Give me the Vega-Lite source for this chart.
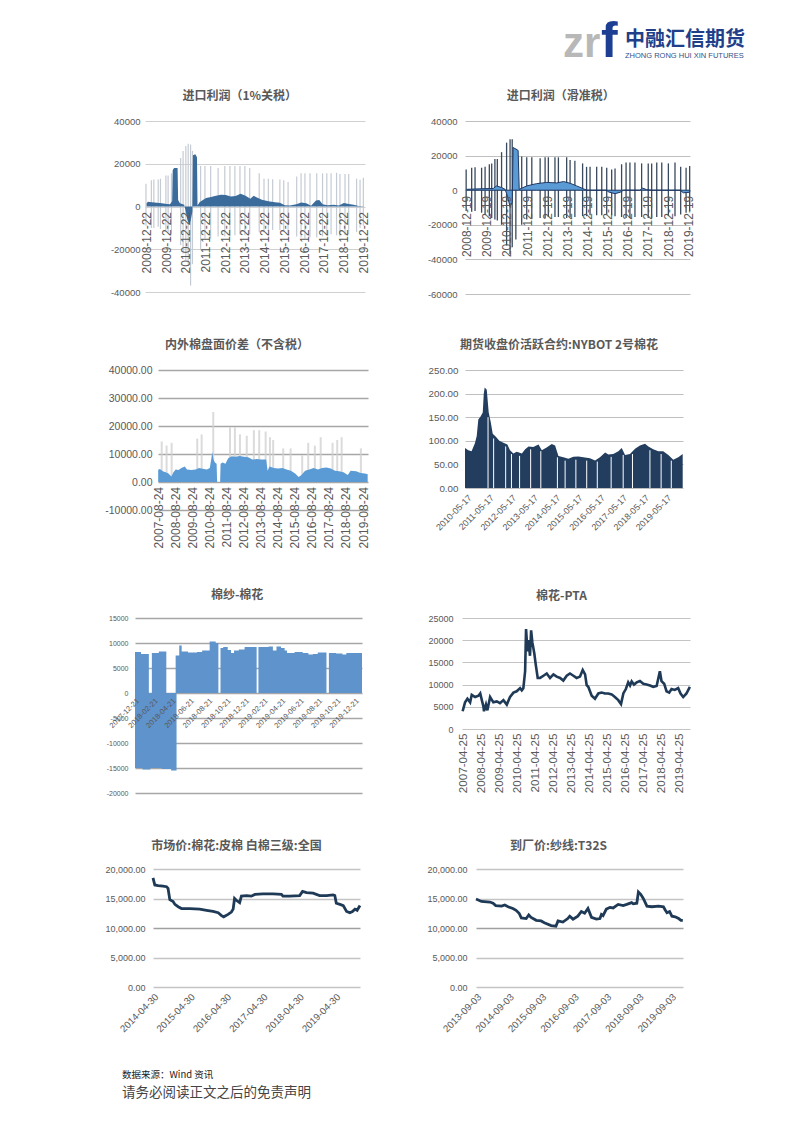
{
"$schema": "https://vega.github.io/schema/vega-lite/v6.json",
"background": "white",
"padding": 0,
"columns": 5,
"bounds": "flush",
"align": "each",
"spacing": {"row": 0, "column": 0},
"config": {
  "view": {"stroke": null},
  "title": {"font": "Noto Sans CJK SC", "fontSize": 12, "fontWeight": "bold", "color": "#595959", "anchor": "middle", "frame": "bounds", "baseline": "alphabetic"},
  "axis": {"labelFont": "Liberation Sans", "labelColor": "#595959", "domain": false, "ticks": false, "labelOverlap": false, "labelFlush": false},
  "axisX": {"grid": false},
  "axisY": {"grid": true}
},
"datasets": {
  "d1a": [
    {"d":"2008-12-22","v":1500},{"d":"2009-01-15","v":2200},{"d":"2009-04-01","v":2000},{"d":"2009-07-01","v":1700},{"d":"2009-10-01","v":1500},{"d":"2010-01-01","v":1200},{"d":"2010-03-01","v":1000},{"d":"2010-04-10","v":2500},{"d":"2010-04-20","v":17000},{"d":"2010-05-15","v":18000},{"d":"2010-07-20","v":18000},{"d":"2010-07-30","v":3000},{"d":"2010-09-01","v":1500},{"d":"2010-11-20","v":800},{"d":"2010-12-15","v":-2000},{"d":"2011-01-15","v":-6000},{"d":"2011-02-20","v":-8500},{"d":"2011-03-20","v":-6500},{"d":"2011-04-20","v":-2500},{"d":"2011-05-01","v":24000},{"d":"2011-06-15","v":24500},{"d":"2011-07-15","v":23000},{"d":"2011-07-25","v":500},{"d":"2011-09-01","v":2000},{"d":"2011-11-01","v":3000},{"d":"2012-01-01","v":4000},{"d":"2012-04-01","v":4500},{"d":"2012-07-01","v":5000},{"d":"2012-10-01","v":5500},{"d":"2013-01-01","v":5400},{"d":"2013-04-01","v":4700},{"d":"2013-07-01","v":4900},{"d":"2013-10-01","v":6000},{"d":"2014-01-01","v":5000},{"d":"2014-04-01","v":3600},{"d":"2014-06-01","v":5000},{"d":"2014-08-01","v":4200},{"d":"2014-11-01","v":3200},{"d":"2015-03-01","v":2500},{"d":"2015-07-01","v":2000},{"d":"2015-10-01","v":1800},{"d":"2016-01-01","v":600},{"d":"2016-04-01","v":500},{"d":"2016-08-01","v":1000},{"d":"2016-11-01","v":1900},{"d":"2017-02-01","v":1500},{"d":"2017-05-01","v":400},{"d":"2017-08-01","v":2800},{"d":"2017-10-01","v":3000},{"d":"2017-12-01","v":1000},{"d":"2018-03-01","v":600},{"d":"2018-07-01","v":800},{"d":"2018-10-01","v":500},{"d":"2019-01-01","v":1600},{"d":"2019-04-01","v":1200},{"d":"2019-07-01","v":800},{"d":"2019-10-01","v":200},{"d":"2019-12-31","v":100}
  ],
  "d1r": [
    {"d":"2008-12-10","lo":-9000,"hi":10700},{"d":"2009-03-20","lo":-10000,"hi":12300},{"d":"2009-05-05","lo":-10000,"hi":12600},{"d":"2009-07-25","lo":-9500,"hi":12600},{"d":"2009-09-05","lo":-10500,"hi":13000},{"d":"2009-12-15","lo":-11000,"hi":14500},{"d":"2010-01-25","lo":-12000,"hi":14500},{"d":"2010-03-28","lo":-13000,"hi":15500},{"d":"2010-09-15","lo":-18000,"hi":22700},{"d":"2010-10-30","lo":-22000,"hi":26000},{"d":"2010-12-20","lo":-25000,"hi":28300},{"d":"2011-02-02","lo":-28000,"hi":29400},{"d":"2011-03-18","lo":-37000,"hi":29000},{"d":"2011-04-22","lo":-27000,"hi":26000},{"d":"2011-09-20","lo":-20000,"hi":19000},{"d":"2011-12-10","lo":-15000,"hi":19000},{"d":"2012-03-25","lo":-15000,"hi":19000},{"d":"2012-08-10","lo":-14000,"hi":18000},{"d":"2012-12-12","lo":-14000,"hi":19000},{"d":"2013-03-18","lo":-14000,"hi":19000},{"d":"2013-06-18","lo":-13500,"hi":19000},{"d":"2013-09-20","lo":-13000,"hi":19000},{"d":"2013-12-20","lo":-13500,"hi":19000},{"d":"2014-03-20","lo":-13000,"hi":18000},{"d":"2014-09-12","lo":-12000,"hi":15500},{"d":"2014-12-10","lo":-12000,"hi":13000},{"d":"2015-03-01","lo":-11500,"hi":13000},{"d":"2015-05-20","lo":-11000,"hi":12800},{"d":"2015-10-01","lo":-11000,"hi":12600},{"d":"2015-12-12","lo":-11500,"hi":12300},{"d":"2016-03-01","lo":-12500,"hi":11500},{"d":"2016-08-08","lo":-14000,"hi":14000},{"d":"2016-10-28","lo":-14500,"hi":15500},{"d":"2017-01-08","lo":-15000,"hi":15500},{"d":"2017-04-12","lo":-14500,"hi":15500},{"d":"2017-08-15","lo":-14500,"hi":15500},{"d":"2017-12-01","lo":-14000,"hi":15500},{"d":"2018-02-18","lo":-13500,"hi":15500},{"d":"2018-05-08","lo":-13000,"hi":15500},{"d":"2018-08-18","lo":-13500,"hi":15800},{"d":"2018-10-20","lo":-14000,"hi":15200},{"d":"2019-01-22","lo":-13500,"hi":15200},{"d":"2019-04-01","lo":-13000,"hi":15200},{"d":"2019-08-25","lo":-12000,"hi":13000},{"d":"2019-10-28","lo":-10000,"hi":12500},{"d":"2019-12-28","lo":-9000,"hi":13500}
  ],
  "d2a": [
    {"d":"2008-12-19","v":500},{"d":"2009-08-15","v":800},{"d":"2010-04-15","v":1000},{"d":"2010-06-15","v":2500},{"d":"2010-09-15","v":1500},{"d":"2010-11-15","v":500},{"d":"2010-12-15","v":-2000},{"d":"2011-02-15","v":-9500},{"d":"2011-03-25","v":-7000},{"d":"2011-04-10","v":24700},{"d":"2011-07-10","v":23000},{"d":"2011-07-30","v":500},{"d":"2011-12-15","v":2500},{"d":"2012-06-10","v":3800},{"d":"2012-12-10","v":4500},{"d":"2013-06-10","v":4200},{"d":"2013-10-10","v":5000},{"d":"2014-02-06","v":4000},{"d":"2014-06-05","v":2500},{"d":"2014-10-05","v":800},{"d":"2014-12-05","v":0},{"d":"2015-12-01","v":0},{"d":"2016-01-01","v":-1000},{"d":"2016-05-01","v":-2000},{"d":"2016-08-01","v":-1200},{"d":"2016-10-01","v":0},{"d":"2017-07-25","v":0},{"d":"2017-09-13","v":1200},{"d":"2017-11-25","v":300},{"d":"2018-03-01","v":0},{"d":"2019-07-25","v":0},{"d":"2019-09-20","v":-1500},{"d":"2020-01-15","v":-1200}
  ],
  "d2r": [
    {"d":"2008-12-10","lo":-12000,"hi":12000},{"d":"2009-03-20","lo":-12500,"hi":13000},{"d":"2009-05-20","lo":-12000,"hi":13200},{"d":"2009-09-16","lo":-13000,"hi":13000},{"d":"2009-11-18","lo":-14000,"hi":13500},{"d":"2010-02-03","lo":-15000,"hi":15000},{"d":"2010-03-18","lo":-16000,"hi":15500},{"d":"2010-05-15","lo":-17000,"hi":18000},{"d":"2010-06-28","lo":-17500,"hi":18000},{"d":"2010-09-13","lo":-20000,"hi":22000},{"d":"2010-12-13","lo":-32000,"hi":27500},{"d":"2011-02-14","lo":-37000,"hi":29500},{"d":"2011-03-25","lo":-33000,"hi":29500},{"d":"2011-05-30","lo":-28500,"hi":24000},{"d":"2011-09-13","lo":-20000,"hi":19500},{"d":"2011-12-13","lo":-17000,"hi":19000},{"d":"2012-03-14","lo":-16500,"hi":19000},{"d":"2012-08-12","lo":-16000,"hi":18500},{"d":"2012-11-10","lo":-16000,"hi":19000},{"d":"2013-01-08","lo":-15500,"hi":19000},{"d":"2013-05-08","lo":-15500,"hi":19000},{"d":"2013-07-09","lo":-15500,"hi":19000},{"d":"2013-12-06","lo":-16000,"hi":19000},{"d":"2014-02-06","lo":-15500,"hi":17500},{"d":"2014-05-04","lo":-15500,"hi":17000},{"d":"2014-09-21","lo":-15000,"hi":15500},{"d":"2014-12-02","lo":-15000,"hi":13500},{"d":"2015-02-03","lo":-14500,"hi":13500},{"d":"2015-06-03","lo":-14500,"hi":13500},{"d":"2015-09-03","lo":-14500,"hi":13500},{"d":"2015-12-02","lo":-14000,"hi":13000},{"d":"2016-03-01","lo":-14500,"hi":12000},{"d":"2016-05-01","lo":-15000,"hi":12500},{"d":"2016-08-28","lo":-15500,"hi":15000},{"d":"2016-11-17","lo":-16000,"hi":16000},{"d":"2017-01-26","lo":-16000,"hi":16000},{"d":"2017-04-27","lo":-15500,"hi":16000},{"d":"2017-08-26","lo":-15500,"hi":15500},{"d":"2017-12-24","lo":-16000,"hi":15500},{"d":"2018-02-24","lo":-16000,"hi":15500},{"d":"2018-05-27","lo":-15500,"hi":16000},{"d":"2018-08-26","lo":-15500,"hi":16000},{"d":"2018-12-24","lo":-15000,"hi":15500},{"d":"2019-04-23","lo":-15000,"hi":16000},{"d":"2019-08-04","lo":-14000,"hi":13500},{"d":"2019-11-10","lo":-13000,"hi":13000},{"d":"2020-01-14","lo":-12000,"hi":14000}
  ],
  "d3a": [
    {"d":"2007-08-24","v":4400},{"d":"2007-10-01","v":4600},{"d":"2007-12-01","v":3800},{"d":"2008-02-01","v":3500},{"d":"2008-04-01","v":3000},{"d":"2008-06-01","v":2000},{"d":"2008-07-15","v":3500},{"d":"2008-09-01","v":4500},{"d":"2008-11-01","v":4300},{"d":"2009-01-01","v":5000},{"d":"2009-03-15","v":5500},{"d":"2009-05-01","v":4500},{"d":"2009-08-01","v":4300},{"d":"2009-11-01","v":4500},{"d":"2010-01-15","v":5000},{"d":"2010-04-01","v":4700},{"d":"2010-07-01","v":4500},{"d":"2010-09-01","v":5000},{"d":"2010-10-01","v":8000},{"d":"2010-10-25","v":10700},{"d":"2010-11-20","v":8000},{"d":"2010-12-20","v":7000},{"d":"2011-01-25","v":6500},{"d":"2011-02-05","v":0},{"d":"2011-04-10","v":0},{"d":"2011-04-20","v":6500},{"d":"2011-06-01","v":7000},{"d":"2011-08-01","v":6500},{"d":"2011-10-01","v":8500},{"d":"2011-12-15","v":9200},{"d":"2012-03-01","v":9000},{"d":"2012-06-01","v":9300},{"d":"2012-09-01","v":9000},{"d":"2012-12-01","v":8800},{"d":"2013-03-01","v":8000},{"d":"2013-06-01","v":8200},{"d":"2013-09-01","v":8000},{"d":"2013-12-20","v":8000},{"d":"2014-01-20","v":4000},{"d":"2014-03-01","v":5500},{"d":"2014-06-01","v":5000},{"d":"2014-09-01","v":4800},{"d":"2014-12-01","v":5000},{"d":"2015-03-01","v":4500},{"d":"2015-06-01","v":4000},{"d":"2015-09-01","v":3000},{"d":"2015-11-15","v":1800},{"d":"2016-01-15","v":2500},{"d":"2016-04-01","v":4000},{"d":"2016-07-01","v":4500},{"d":"2016-10-01","v":5000},{"d":"2017-01-01","v":4500},{"d":"2017-04-01","v":5000},{"d":"2017-07-01","v":5200},{"d":"2017-10-01","v":4800},{"d":"2018-01-01","v":4000},{"d":"2018-04-01","v":3800},{"d":"2018-07-01","v":3500},{"d":"2018-10-01","v":2500},{"d":"2018-12-01","v":4000},{"d":"2019-04-01","v":3800},{"d":"2019-07-01","v":3200},{"d":"2019-10-01","v":3000},{"d":"2019-12-01","v":2800}
  ],
  "d3r": [
    {"d":"2007-11-07","v":14500},{"d":"2008-02-20","v":13000},{"d":"2008-06-07","v":14000},{"d":"2009-12-06","v":15500},{"d":"2010-03-11","v":17000},{"d":"2010-11-14","v":25000},{"d":"2011-11-07","v":19500},{"d":"2012-02-20","v":19500},{"d":"2012-06-07","v":17000},{"d":"2012-10-31","v":16500},{"d":"2013-04-01","v":18500},{"d":"2013-07-24","v":18500},{"d":"2013-12-09","v":18000},{"d":"2014-03-11","v":16000},{"d":"2014-05-19","v":15000},{"d":"2014-12-20","v":12000},{"d":"2015-05-27","v":12000},{"d":"2016-01-30","v":9500},{"d":"2016-06-07","v":14000},{"d":"2016-10-27","v":13000},{"d":"2017-03-01","v":16000},{"d":"2017-11-10","v":14000},{"d":"2018-02-17","v":15000},{"d":"2018-05-23","v":16000},{"d":"2019-07-09","v":12000}
  ],
  "d4a": [
    {"d":"2010-04-17","v":85},{"d":"2010-06-10","v":80},{"d":"2010-08-03","v":78},{"d":"2010-09-27","v":95},{"d":"2010-10-27","v":110},{"d":"2010-11-22","v":145},{"d":"2011-01-01","v":152},{"d":"2011-02-03","v":160},{"d":"2011-02-20","v":200},{"d":"2011-03-07","v":213},{"d":"2011-04-10","v":208},{"d":"2011-05-12","v":160},{"d":"2011-06-14","v":140},{"d":"2011-07-17","v":115},{"d":"2011-09-10","v":108},{"d":"2011-11-03","v":100},{"d":"2012-01-08","v":96},{"d":"2012-03-14","v":92},{"d":"2012-04-27","v":80},{"d":"2012-06-21","v":73},{"d":"2012-08-15","v":77},{"d":"2012-11-07","v":73},{"d":"2013-01-01","v":82},{"d":"2013-02-25","v":88},{"d":"2013-05-15","v":87},{"d":"2013-08-08","v":92},{"d":"2013-10-01","v":80},{"d":"2013-12-20","v":86},{"d":"2014-03-14","v":93},{"d":"2014-05-08","v":90},{"d":"2014-07-02","v":68},{"d":"2014-09-21","v":65},{"d":"2014-12-13","v":62},{"d":"2015-03-04","v":66},{"d":"2015-05-27","v":67},{"d":"2015-08-15","v":65},{"d":"2015-12-02","v":63},{"d":"2016-02-25","v":58},{"d":"2016-05-15","v":65},{"d":"2016-08-08","v":75},{"d":"2016-10-01","v":71},{"d":"2016-12-20","v":72},{"d":"2017-03-14","v":78},{"d":"2017-05-08","v":85},{"d":"2017-07-02","v":70},{"d":"2017-09-21","v":72},{"d":"2017-12-13","v":83},{"d":"2018-03-04","v":90},{"d":"2018-05-27","v":94},{"d":"2018-07-20","v":88},{"d":"2018-10-08","v":82},{"d":"2019-01-01","v":78},{"d":"2019-03-22","v":78},{"d":"2019-06-14","v":70},{"d":"2019-09-03","v":60},{"d":"2019-11-25","v":65},{"d":"2020-02-05","v":72}
  ],
  "d4g": [
    {"d":"2011-05-01","v":150},{"d":"2011-08-01","v":105},{"d":"2012-02-15","v":88},{"d":"2012-05-20","v":72},{"d":"2012-10-01","v":68},{"d":"2013-04-01","v":82},{"d":"2013-09-15","v":78},{"d":"2014-06-15","v":65},{"d":"2014-10-20","v":58},{"d":"2015-04-15","v":60},{"d":"2015-10-10","v":58},{"d":"2016-04-01","v":56},{"d":"2016-11-15","v":66},{"d":"2017-06-01","v":70},{"d":"2017-11-01","v":72},{"d":"2018-08-15","v":80},{"d":"2019-02-15","v":72},{"d":"2019-08-01","v":58}
  ],
  "d5p": [
    {"d":"2017-12-21","v":8200},{"d":"2018-01-10","v":7800},{"d":"2018-02-05","v":0},{"d":"2018-02-15","v":8000},{"d":"2018-03-10","v":8300},{"d":"2018-04-04","v":0},{"d":"2018-05-05","v":7500},{"d":"2018-05-17","v":9500},{"d":"2018-05-25","v":8300},{"d":"2018-06-15","v":8100},{"d":"2018-07-15","v":8200},{"d":"2018-08-01","v":8500},{"d":"2018-08-26","v":10300},{"d":"2018-09-15","v":10000},{"d":"2018-09-24","v":0},{"d":"2018-10-01","v":9000},{"d":"2018-10-10","v":9200},{"d":"2018-10-25","v":8600},{"d":"2018-11-05","v":8000},{"d":"2018-11-15","v":8500},{"d":"2018-12-01","v":8700},{"d":"2018-12-20","v":9200},{"d":"2019-01-29","v":0},{"d":"2019-02-04","v":9200},{"d":"2019-03-10","v":9300},{"d":"2019-03-24","v":8500},{"d":"2019-04-05","v":9300},{"d":"2019-04-20","v":9000},{"d":"2019-05-02","v":8500},{"d":"2019-05-10","v":8000},{"d":"2019-06-04","v":8200},{"d":"2019-07-01","v":8000},{"d":"2019-07-20","v":7700},{"d":"2019-08-04","v":7800},{"d":"2019-08-20","v":8100},{"d":"2019-09-18","v":0},{"d":"2019-09-26","v":8000},{"d":"2019-10-20","v":7900},{"d":"2019-11-10","v":7700},{"d":"2019-11-23","v":8000},{"d":"2020-01-14","v":7900}
  ],
  "d5n": [
    {"d":"2017-12-21","v":-15000},{"d":"2018-01-15","v":-15300},{"d":"2018-02-10","v":-15000},{"d":"2018-03-20","v":-15200},{"d":"2018-04-20","v":-15500},{"d":"2018-05-08","v":0}
  ],
  "d6": [
    {"d":"2007-04-25","v":4000},{"d":"2007-06-13","v":6000},{"d":"2007-07-31","v":6800},{"d":"2007-09-24","v":6000},{"d":"2007-10-27","v":7700},{"d":"2008-01-04","v":7200},{"d":"2008-03-11","v":7500},{"d":"2008-04-16","v":8000},{"d":"2008-05-19","v":6500},{"d":"2008-06-21","v":5000},{"d":"2008-07-02","v":4000},{"d":"2008-08-11","v":5500},{"d":"2008-09-09","v":4200},{"d":"2008-11-03","v":7200},{"d":"2009-01-08","v":6000},{"d":"2009-03-18","v":6200},{"d":"2009-05-23","v":5800},{"d":"2009-07-31","v":6500},{"d":"2009-10-08","v":5500},{"d":"2009-12-13","v":7200},{"d":"2010-02-20","v":8200},{"d":"2010-04-27","v":8500},{"d":"2010-07-05","v":9200},{"d":"2010-08-08","v":8700},{"d":"2010-09-09","v":9200},{"d":"2010-10-15","v":13000},{"d":"2010-11-03","v":22500},{"d":"2010-12-02","v":17500},{"d":"2010-12-20","v":20000},{"d":"2011-01-22","v":16500},{"d":"2011-02-14","v":22200},{"d":"2011-03-11","v":19500},{"d":"2011-04-20","v":17000},{"d":"2011-05-19","v":14500},{"d":"2011-06-28","v":11500},{"d":"2011-08-15","v":11500},{"d":"2011-10-23","v":12000},{"d":"2011-12-28","v":12500},{"d":"2012-03-04","v":11500},{"d":"2012-05-12","v":12300},{"d":"2012-07-17","v":11800},{"d":"2012-09-24","v":11500},{"d":"2012-11-29","v":10900},{"d":"2013-02-06","v":12000},{"d":"2013-04-13","v":12500},{"d":"2013-06-21","v":12000},{"d":"2013-08-26","v":11500},{"d":"2013-11-03","v":11800},{"d":"2013-12-28","v":13300},{"d":"2014-02-14","v":12300},{"d":"2014-03-18","v":9900},{"d":"2014-04-20","v":9500},{"d":"2014-06-28","v":7500},{"d":"2014-09-03","v":6800},{"d":"2014-11-10","v":8000},{"d":"2015-01-15","v":8200},{"d":"2015-03-25","v":8000},{"d":"2015-05-30","v":8000},{"d":"2015-08-08","v":7800},{"d":"2015-10-12","v":7200},{"d":"2015-12-20","v":6500},{"d":"2016-02-14","v":5600},{"d":"2016-04-01","v":8000},{"d":"2016-05-22","v":9000},{"d":"2016-07-09","v":10500},{"d":"2016-08-15","v":9800},{"d":"2016-09-17","v":10700},{"d":"2016-11-03","v":10000},{"d":"2016-12-28","v":10500},{"d":"2017-03-04","v":10800},{"d":"2017-05-12","v":10200},{"d":"2017-07-17","v":10000},{"d":"2017-09-24","v":9800},{"d":"2017-11-29","v":9500},{"d":"2018-02-06","v":9700},{"d":"2018-04-13","v":13000},{"d":"2018-05-16","v":10800},{"d":"2018-07-09","v":10200},{"d":"2018-08-26","v":8500},{"d":"2018-10-20","v":8200},{"d":"2018-12-06","v":9000},{"d":"2019-02-10","v":8800},{"d":"2019-04-20","v":9200},{"d":"2019-06-07","v":8000},{"d":"2019-07-31","v":7200},{"d":"2019-10-05","v":8000},{"d":"2019-12-13","v":9500}
  ],
  "d7": [
    {"d":"2014-04-30","v":18500},{"d":"2014-05-18","v":17300},{"d":"2014-06-21","v":17200},{"d":"2014-08-08","v":17100},{"d":"2014-09-13","v":17000},{"d":"2014-09-28","v":16700},{"d":"2014-10-16","v":14800},{"d":"2014-11-18","v":14500},{"d":"2014-12-06","v":14000},{"d":"2015-01-08","v":13600},{"d":"2015-02-10","v":13300},{"d":"2015-05-05","v":13300},{"d":"2015-08-12","v":13200},{"d":"2015-10-20","v":13000},{"d":"2015-12-24","v":12800},{"d":"2016-02-14","v":12600},{"d":"2016-03-18","v":12100},{"d":"2016-04-09","v":11900},{"d":"2016-05-23","v":12300},{"d":"2016-06-25","v":12700},{"d":"2016-07-13","v":13200},{"d":"2016-07-27","v":15000},{"d":"2016-08-14","v":14700},{"d":"2016-09-16","v":14300},{"d":"2016-10-04","v":15400},{"d":"2016-11-25","v":15500},{"d":"2017-01-11","v":15400},{"d":"2017-02-17","v":15700},{"d":"2017-05-08","v":15800},{"d":"2017-08-18","v":15800},{"d":"2017-11-10","v":15700},{"d":"2017-11-25","v":15400},{"d":"2018-01-30","v":15400},{"d":"2018-05-12","v":15500},{"d":"2018-06-10","v":16200},{"d":"2018-07-20","v":16000},{"d":"2018-09-24","v":15900},{"d":"2018-11-28","v":15500},{"d":"2019-02-06","v":15500},{"d":"2019-04-13","v":15600},{"d":"2019-04-30","v":15500},{"d":"2019-05-15","v":14200},{"d":"2019-06-21","v":14000},{"d":"2019-07-24","v":13800},{"d":"2019-08-26","v":12800},{"d":"2019-09-28","v":12600},{"d":"2019-10-24","v":12800},{"d":"2019-11-18","v":13200},{"d":"2019-12-10","v":13000},{"d":"2020-01-08","v":13800}
  ],
  "d8": [
    {"d":"2013-09-03","v":14900},{"d":"2013-11-03","v":14500},{"d":"2014-02-06","v":14400},{"d":"2014-03-14","v":14200},{"d":"2014-04-13","v":13800},{"d":"2014-06-18","v":13700},{"d":"2014-07-24","v":13900},{"d":"2014-08-30","v":13600},{"d":"2014-10-23","v":13300},{"d":"2014-11-28","v":13000},{"d":"2015-01-01","v":12500},{"d":"2015-01-26","v":11700},{"d":"2015-03-22","v":11600},{"d":"2015-04-20","v":12200},{"d":"2015-05-16","v":11800},{"d":"2015-07-13","v":11300},{"d":"2015-09-06","v":11200},{"d":"2015-10-12","v":10900},{"d":"2015-12-28","v":10400},{"d":"2016-02-20","v":10300},{"d":"2016-03-14","v":11200},{"d":"2016-05-08","v":11000},{"d":"2016-07-02","v":11600},{"d":"2016-07-24","v":12000},{"d":"2016-08-30","v":11500},{"d":"2016-10-23","v":12000},{"d":"2016-12-02","v":12800},{"d":"2017-01-08","v":12500},{"d":"2017-02-14","v":13300},{"d":"2017-03-26","v":11800},{"d":"2017-05-20","v":11500},{"d":"2017-06-29","v":11600},{"d":"2017-07-16","v":12300},{"d":"2017-08-03","v":12100},{"d":"2017-09-09","v":13200},{"d":"2017-10-20","v":13500},{"d":"2017-11-25","v":13400},{"d":"2018-01-20","v":14000},{"d":"2018-03-18","v":13800},{"d":"2018-04-27","v":14000},{"d":"2018-06-21","v":14300},{"d":"2018-07-09","v":14100},{"d":"2018-08-18","v":14200},{"d":"2018-09-05","v":16100},{"d":"2018-10-01","v":15700},{"d":"2018-10-30","v":15000},{"d":"2018-12-10","v":13700},{"d":"2019-02-03","v":13600},{"d":"2019-04-20","v":13700},{"d":"2019-06-14","v":13600},{"d":"2019-07-02","v":13100},{"d":"2019-07-24","v":12600},{"d":"2019-08-22","v":12800},{"d":"2019-09-17","v":12000},{"d":"2019-10-24","v":11900},{"d":"2019-12-02","v":11600},{"d":"2019-12-28","v":11300},{"d":"2020-01-18","v":11300}
  ]
},
"concat": [
  {"width": 135, "height": 121, "data": {"values": []}, "mark": "point"},
  {"width": 1, "height": 57, "data": {"values": []}, "mark": "point",
   "title": {"text": "zr", "orient": "bottom", "anchor": "start", "frame": "group", "offset": 0, "dx": 428, "baseline": "alphabetic", "font": "Liberation Sans", "fontSize": 42, "fontWeight": "bold", "color": "#b8b8b8"}},
  {"width": 1, "height": 57, "data": {"values": []}, "mark": "point",
   "title": {"text": "f", "orient": "bottom", "anchor": "start", "frame": "group", "offset": 0, "dx": 233, "baseline": "alphabetic", "font": "Liberation Sans", "fontSize": 50, "fontWeight": "bold", "color": "#1d3f93"}},
  {"width": 1, "height": 46, "data": {"values": []}, "mark": "point",
   "title": {"text": "中融汇信期货", "orient": "bottom", "anchor": "start", "frame": "group", "offset": 0, "dx": 163, "baseline": "alphabetic", "font": "Noto Sans CJK SC", "fontSize": 20, "fontWeight": "bold", "color": "#1f3f8a"}},
  {"width": 1, "height": 58, "data": {"values": []}, "mark": "point",
   "title": {"text": "ZHONG RONG HUI XIN FUTURES", "orient": "bottom", "anchor": "start", "frame": "group", "offset": 0, "dx": -65, "baseline": "alphabetic", "font": "Liberation Sans", "fontSize": 7.5, "fontWeight": "normal", "color": "#33508a"}},

  {"width": 135, "height": 249, "data": {"values": []}, "mark": "point"},
  {"width": 233, "height": 171,
   "title": {"text": "进口利润（1%关税）", "offset": 13},
   "encoding": {
     "x": {"field": "d", "type": "temporal", "scale": {"type": "utc", "range": [10, 230], "domain": [{"year": 2008, "month": 11, "date": 22, "utc": true}, {"year": 2020, "month": 1, "date": 28, "utc": true}]},
           "axis": {"title": null, "format": "%Y-%m-%d", "labelAngle": -90, "labelFontSize": 12, "offset": -85.5, "labelPadding": 5, "zindex": 1, "labelOverlap": false,
                    "values": [{"year":2008,"month":12,"date":22,"utc":true},{"year":2009,"month":12,"date":22,"utc":true},{"year":2010,"month":12,"date":22,"utc":true},{"year":2011,"month":12,"date":22,"utc":true},{"year":2012,"month":12,"date":22,"utc":true},{"year":2013,"month":12,"date":22,"utc":true},{"year":2014,"month":12,"date":22,"utc":true},{"year":2015,"month":12,"date":22,"utc":true},{"year":2016,"month":12,"date":22,"utc":true},{"year":2017,"month":12,"date":22,"utc":true},{"year":2018,"month":12,"date":22,"utc":true},{"year":2019,"month":12,"date":22,"utc":true}]}}
   },
   "layer": [
     {"data": {"name": "d1r"}, "mark": {"type": "rule", "color": "#c5cbd3", "strokeWidth": 1.2},
      "encoding": {
        "y": {"field": "lo", "type": "quantitative", "scale": {"domain": [-40000, 40000]},
              "axis": {"title": null, "offset": -10, "labelOverlap": false, "values": [-40000, -20000, 0, 20000, 40000], "format": "d", "labelExpr": "replace(datum.label, '\u2212', '-')", "labelFontSize": 9.5, "labelPadding": 5, "gridColor": "#d0d0d0"}},
        "y2": {"field": "hi"}
      }},
     {"data": {"name": "d1a"}, "mark": {"type": "area", "color": "#3b6b9b"},
      "encoding": {
        "y": {"field": "v", "type": "quantitative", "scale": {"domain": [-40000, 40000]},
              "axis": {"title": null, "offset": -10, "labelOverlap": false, "values": [-40000, -20000, 0, 20000, 40000], "format": "d", "labelExpr": "replace(datum.label, '\u2212', '-')", "labelFontSize": 9.5, "labelPadding": 5, "gridColor": "#d0d0d0"}}
      }}
   ]},
  {"width": 94, "height": 1, "data": {"values": []}, "mark": "point"},
  {"width": 228, "height": 173,
   "title": {"text": "进口利润（滑准税）", "offset": 13},
   "encoding": {
     "x": {"field": "d", "type": "temporal", "scale": {"type": "utc", "range": [3, 228], "domain": [{"year": 2008, "month": 11, "date": 19, "utc": true}, {"year": 2020, "month": 1, "date": 20, "utc": true}]},
           "axis": {"title": null, "format": "%Y-%m-%d", "labelAngle": -90, "labelFontSize": 12, "offset": -103.8, "labelPadding": 5, "zindex": 1, "labelOverlap": false,
                    "values": [{"year":2008,"month":12,"date":19,"utc":true},{"year":2009,"month":12,"date":19,"utc":true},{"year":2010,"month":12,"date":19,"utc":true},{"year":2011,"month":12,"date":19,"utc":true},{"year":2012,"month":12,"date":19,"utc":true},{"year":2013,"month":12,"date":19,"utc":true},{"year":2014,"month":12,"date":19,"utc":true},{"year":2015,"month":12,"date":19,"utc":true},{"year":2016,"month":12,"date":19,"utc":true},{"year":2017,"month":12,"date":19,"utc":true},{"year":2018,"month":12,"date":19,"utc":true},{"year":2019,"month":12,"date":19,"utc":true}]}}
   },
   "layer": [
     {"data": {"name": "d2r"}, "mark": {"type": "rule", "color": "#3a4a5e", "strokeWidth": 1.3},
      "encoding": {
        "y": {"field": "lo", "type": "quantitative", "scale": {"domain": [-60000, 40000]},
              "axis": {"title": null, "offset": -3, "labelOverlap": false, "values": [-60000, -40000, -20000, 0, 20000, 40000], "format": "d", "labelExpr": "replace(datum.label, '\u2212', '-')", "labelFontSize": 9.5, "labelPadding": 8, "gridColor": "#bfbfbf"}},
        "y2": {"field": "hi"}
      }},
     {"data": {"name": "d2a"}, "mark": {"type": "area", "color": "#5b9bd5", "stroke": "#1f3864", "strokeWidth": 1},
      "encoding": {
        "y": {"field": "v", "type": "quantitative", "scale": {"domain": [-60000, 40000]},
              "axis": {"title": null, "offset": -3, "labelOverlap": false, "values": [-60000, -40000, -20000, 0, 20000, 40000], "format": "d", "labelExpr": "replace(datum.label, '\u2212', '-')", "labelFontSize": 9.5, "labelPadding": 8, "gridColor": "#bfbfbf"}}
      }}
   ]},
  {"width": 1, "height": 1, "data": {"values": []}, "mark": "point"},

  {"width": 135, "height": 248, "data": {"values": []}, "mark": "point"},
  {"width": 233, "height": 140,
   "title": {"text": "内外棉盘面价差（不含税）", "offset": 13},
   "encoding": {
     "x": {"field": "d", "type": "temporal", "scale": {"type": "utc", "range": [23, 233], "domain": [{"year": 2007, "month": 8, "date": 20, "utc": true}, {"year": 2019, "month": 12, "date": 8, "utc": true}]},
           "axis": {"title": null, "format": "%Y-%m-%d", "labelAngle": -90, "labelFontSize": 12, "offset": -28, "labelPadding": 4.5, "zindex": 1, "labelOverlap": false,
                    "values": [{"year":2007,"month":8,"date":24,"utc":true},{"year":2008,"month":8,"date":24,"utc":true},{"year":2009,"month":8,"date":24,"utc":true},{"year":2010,"month":8,"date":24,"utc":true},{"year":2011,"month":8,"date":24,"utc":true},{"year":2012,"month":8,"date":24,"utc":true},{"year":2013,"month":8,"date":24,"utc":true},{"year":2014,"month":8,"date":24,"utc":true},{"year":2015,"month":8,"date":24,"utc":true},{"year":2016,"month":8,"date":24,"utc":true},{"year":2017,"month":8,"date":24,"utc":true},{"year":2018,"month":8,"date":24,"utc":true},{"year":2019,"month":8,"date":24,"utc":true}]}}
   },
   "layer": [
     {"data": {"name": "d3r"}, "mark": {"type": "rule", "color": "#cfcfcf", "strokeWidth": 2, "opacity": 0.75},
      "encoding": {
        "y": {"field": "v", "type": "quantitative", "scale": {"domain": [-10000, 40000]},
              "axis": {"title": null, "offset": -23, "labelOverlap": false, "values": [-10000, 0, 10000, 20000, 30000, 40000], "format": ".2f", "labelExpr": "replace(datum.label, '\u2212', '-')", "labelFontSize": 10.5, "labelPadding": 6, "gridColor": "#a6a6a6", "gridWidth": 1.5}},
        "y2": {"datum": 0}
      }},
     {"data": {"name": "d3a"}, "mark": {"type": "area", "color": "#5b9bd5"},
      "encoding": {
        "y": {"field": "v", "type": "quantitative", "scale": {"domain": [-10000, 40000]},
              "axis": {"title": null, "offset": -23, "labelOverlap": false, "values": [-10000, 0, 10000, 20000, 30000, 40000], "format": ".2f", "labelExpr": "replace(datum.label, '\u2212', '-')", "labelFontSize": 10.5, "labelPadding": 6, "gridColor": "#a6a6a6", "gridWidth": 1.5}}
      }}
   ]},
  {"width": 94, "height": 1, "data": {"values": []}, "mark": "point"},
  {"width": 228, "height": 118,
   "title": {"text": "期货收盘价活跃合约:NYBOT 2号棉花", "offset": 13},
   "encoding": {
     "x": {"field": "d", "type": "temporal", "scale": {"type": "utc", "range": [3, 221], "domain": [{"year": 2010, "month": 4, "date": 17, "utc": true}, {"year": 2020, "month": 2, "date": 10, "utc": true}]},
           "axis": {"title": null, "format": "%Y-%m-%d", "labelAngle": -45, "labelAlign": "right", "labelBaseline": "top", "labelFontSize": 9, "labelPadding": 5, "labelOverlap": false,
                    "values": [{"year":2010,"month":5,"date":17,"utc":true},{"year":2011,"month":5,"date":17,"utc":true},{"year":2012,"month":5,"date":17,"utc":true},{"year":2013,"month":5,"date":17,"utc":true},{"year":2014,"month":5,"date":17,"utc":true},{"year":2015,"month":5,"date":17,"utc":true},{"year":2016,"month":5,"date":17,"utc":true},{"year":2017,"month":5,"date":17,"utc":true},{"year":2018,"month":5,"date":17,"utc":true},{"year":2019,"month":5,"date":17,"utc":true}]}}
   },
   "layer": [
     {"data": {"name": "d4a"}, "mark": {"type": "area", "color": "#223d5e"},
      "encoding": {
        "y": {"field": "v", "type": "quantitative", "scale": {"domain": [0, 250]},
              "axis": {"title": null, "offset": -3, "labelOverlap": false, "values": [0, 50, 100, 150, 200, 250], "format": ".2f", "labelFontSize": 9.8, "labelPadding": 7, "gridColor": "#bfbfbf", "gridWidth": 1.2}}
      }},
     {"data": {"name": "d4g"}, "mark": {"type": "rule", "color": "white", "strokeWidth": 1},
      "encoding": {
        "y": {"field": "v", "type": "quantitative", "scale": {"domain": [0, 250]},
              "axis": {"title": null, "offset": -3, "labelOverlap": false, "values": [0, 50, 100, 150, 200, 250], "format": ".2f", "labelFontSize": 9.8, "labelPadding": 7, "gridColor": "#bfbfbf", "gridWidth": 1.2}},
        "y2": {"datum": 0}
      }}
   ]},
  {"width": 1, "height": 1, "data": {"values": []}, "mark": "point"},

  {"width": 135, "height": 251, "data": {"values": []}, "mark": "point"},
  {"width": 233, "height": 175,
   "title": {"text": "棉纱-棉花", "offset": 12},
   "encoding": {
     "x": {"field": "d", "type": "temporal", "scale": {"type": "utc", "range": [0, 227], "domain": [{"year": 2017, "month": 12, "date": 21, "utc": true}, {"year": 2020, "month": 1, "date": 14, "utc": true}]},
           "axis": {"title": null, "format": "%Y-%m-%d", "labelAngle": -45, "labelAlign": "right", "labelBaseline": "top", "labelFontSize": 7.5, "labelPadding": 3.5, "offset": -100, "zindex": 1, "labelOverlap": false,
                    "values": [{"year":2017,"month":12,"date":21,"utc":true},{"year":2018,"month":2,"date":21,"utc":true},{"year":2018,"month":4,"date":21,"utc":true},{"year":2018,"month":6,"date":21,"utc":true},{"year":2018,"month":8,"date":21,"utc":true},{"year":2018,"month":10,"date":21,"utc":true},{"year":2018,"month":12,"date":21,"utc":true},{"year":2019,"month":2,"date":21,"utc":true},{"year":2019,"month":4,"date":21,"utc":true},{"year":2019,"month":6,"date":21,"utc":true},{"year":2019,"month":8,"date":21,"utc":true},{"year":2019,"month":10,"date":21,"utc":true},{"year":2019,"month":12,"date":21,"utc":true}]}}
   },
   "layer": [
     {"data": {"name": "d5p"}, "mark": {"type": "area", "interpolate": "step-after", "color": "#5f93cc"},
      "encoding": {
        "y": {"field": "v", "type": "quantitative", "scale": {"domain": [-20000, 15000]},
              "axis": {"title": null, "labelOverlap": false, "values": [-20000, -15000, -10000, -5000, 0, 5000, 10000, 15000], "format": "d", "labelExpr": "replace(datum.label, '\u2212', '-')", "labelFontSize": 7, "labelPadding": 7, "gridColor": "#a6a6a6", "gridWidth": 1.5}}
      }},
     {"data": {"name": "d5n"}, "mark": {"type": "area", "interpolate": "step-after", "color": "#5f93cc"},
      "encoding": {
        "y": {"field": "v", "type": "quantitative", "scale": {"domain": [-20000, 15000]},
              "axis": {"title": null, "labelOverlap": false, "values": [-20000, -15000, -10000, -5000, 0, 5000, 10000, 15000], "format": "d", "labelExpr": "replace(datum.label, '\u2212', '-')", "labelFontSize": 7, "labelPadding": 7, "gridColor": "#a6a6a6", "gridWidth": 1.5}}
      }}
   ]},
  {"width": 94, "height": 1, "data": {"values": []}, "mark": "point"},
  {"width": 228, "height": 111,
   "title": {"text": "棉花-PTA", "offset": 11},
   "data": {"name": "d6"},
   "mark": {"type": "line", "color": "#1f3a56", "strokeWidth": 2.6},
   "encoding": {
     "x": {"field": "d", "type": "temporal", "scale": {"type": "utc", "range": [0, 228], "domain": [{"year": 2007, "month": 4, "date": 12, "utc": true}, {"year": 2019, "month": 12, "date": 16, "utc": true}]},
           "axis": {"title": null, "format": "%Y-%m-%d", "labelAngle": -90, "labelFontSize": 11.7, "labelPadding": 4, "labelOverlap": false,
                    "values": [{"year":2007,"month":4,"date":25,"utc":true},{"year":2008,"month":4,"date":25,"utc":true},{"year":2009,"month":4,"date":25,"utc":true},{"year":2010,"month":4,"date":25,"utc":true},{"year":2011,"month":4,"date":25,"utc":true},{"year":2012,"month":4,"date":25,"utc":true},{"year":2013,"month":4,"date":25,"utc":true},{"year":2014,"month":4,"date":25,"utc":true},{"year":2015,"month":4,"date":25,"utc":true},{"year":2016,"month":4,"date":25,"utc":true},{"year":2017,"month":4,"date":25,"utc":true},{"year":2018,"month":4,"date":25,"utc":true},{"year":2019,"month":4,"date":25,"utc":true}]}},
     "y": {"field": "v", "type": "quantitative", "scale": {"domain": [0, 25000]},
           "axis": {"title": null, "labelOverlap": false, "values": [0, 5000, 10000, 15000, 20000, 25000], "format": "d", "labelFontSize": 9, "labelPadding": 9, "gridColor": "#c4c4c4", "gridWidth": 1.2}}
   }},
  {"width": 1, "height": 1, "data": {"values": []}, "mark": "point"},

  {"width": 135, "height": 197, "data": {"values": []}, "mark": "point"},
  {"width": 233, "height": 118,
   "title": {"text": "市场价:棉花:皮棉 白棉三级:全国", "offset": 12},
   "data": {"name": "d7"},
   "mark": {"type": "line", "color": "#1f3a56", "strokeWidth": 2.8},
   "encoding": {
     "x": {"field": "d", "type": "temporal", "scale": {"type": "utc", "range": [18, 225], "domain": [{"year": 2014, "month": 4, "date": 30, "utc": true}, {"year": 2020, "month": 1, "date": 8, "utc": true}]},
           "axis": {"title": null, "format": "%Y-%m-%d", "labelAngle": -45, "labelAlign": "right", "labelBaseline": "top", "labelFontSize": 9.7, "labelPadding": 4.5, "labelOverlap": false,
                    "values": [{"year":2014,"month":4,"date":30,"utc":true},{"year":2015,"month":4,"date":30,"utc":true},{"year":2016,"month":4,"date":30,"utc":true},{"year":2017,"month":4,"date":30,"utc":true},{"year":2018,"month":4,"date":30,"utc":true},{"year":2019,"month":4,"date":30,"utc":true}]}},
     "y": {"field": "v", "type": "quantitative", "scale": {"domain": [0, 20000]},
           "axis": {"title": null, "offset": -18, "labelOverlap": false, "values": [0, 5000, 10000, 15000, 20000], "format": ",.2f", "labelFontSize": 9, "labelPadding": 8, "gridColor": {"condition": {"test": "datum.value === 10000", "value": "#a0a0a0"}, "value": "#c4c4c4"}, "gridWidth": 1.3}}
   }},
  {"width": 94, "height": 1, "data": {"values": []}, "mark": "point"},
  {"width": 228, "height": 118,
   "title": {"text": "到厂价:纱线:T32S", "offset": 12},
   "data": {"name": "d8"},
   "mark": {"type": "line", "color": "#1f3a56", "strokeWidth": 2.8},
   "encoding": {
     "x": {"field": "d", "type": "temporal", "scale": {"type": "utc", "range": [14, 221], "domain": [{"year": 2013, "month": 9, "date": 3, "utc": true}, {"year": 2020, "month": 1, "date": 20, "utc": true}]},
           "axis": {"title": null, "format": "%Y-%m-%d", "labelAngle": -45, "labelAlign": "right", "labelBaseline": "top", "labelFontSize": 9.7, "labelPadding": 4.5, "labelOverlap": false,
                    "values": [{"year":2013,"month":9,"date":3,"utc":true},{"year":2014,"month":9,"date":3,"utc":true},{"year":2015,"month":9,"date":3,"utc":true},{"year":2016,"month":9,"date":3,"utc":true},{"year":2017,"month":9,"date":3,"utc":true},{"year":2018,"month":9,"date":3,"utc":true},{"year":2019,"month":9,"date":3,"utc":true}]}},
     "y": {"field": "v", "type": "quantitative", "scale": {"domain": [0, 20000]},
           "axis": {"title": null, "offset": -14, "labelOverlap": false, "values": [0, 5000, 10000, 15000, 20000], "format": ",.2f", "labelFontSize": 9, "labelPadding": 9, "gridColor": {"condition": {"test": "datum.value === 10000", "value": "#a0a0a0"}, "value": "#c4c4c4"}, "gridWidth": 1.3}}
   }},
  {"width": 1, "height": 1, "data": {"values": []}, "mark": "point"},

  {"width": 135, "height": 12, "data": {"values": []}, "mark": "point",
   "title": {"text": "数据来源：Wind 资讯", "orient": "bottom", "anchor": "start", "frame": "group", "offset": 0, "dx": 122, "baseline": "alphabetic", "font": "Noto Sans CJK SC", "fontSize": 9.5, "fontWeight": "normal", "color": "#222222"}},
  {"width": 1, "height": 31, "data": {"values": []}, "mark": "point",
   "title": {"text": "请务必阅读正文之后的免责声明", "orient": "bottom", "anchor": "start", "frame": "group", "offset": 0, "dx": -13, "baseline": "alphabetic", "font": "Noto Sans CJK SC", "fontSize": 13.5, "fontWeight": "normal", "color": "#444444"}},
  {"width": 1, "height": 1, "data": {"values": []}, "mark": "point"},
  {"width": 1, "height": 1, "data": {"values": []}, "mark": "point"},
  {"width": 1, "height": 1, "data": {"values": []}, "mark": "point"}
]
}
